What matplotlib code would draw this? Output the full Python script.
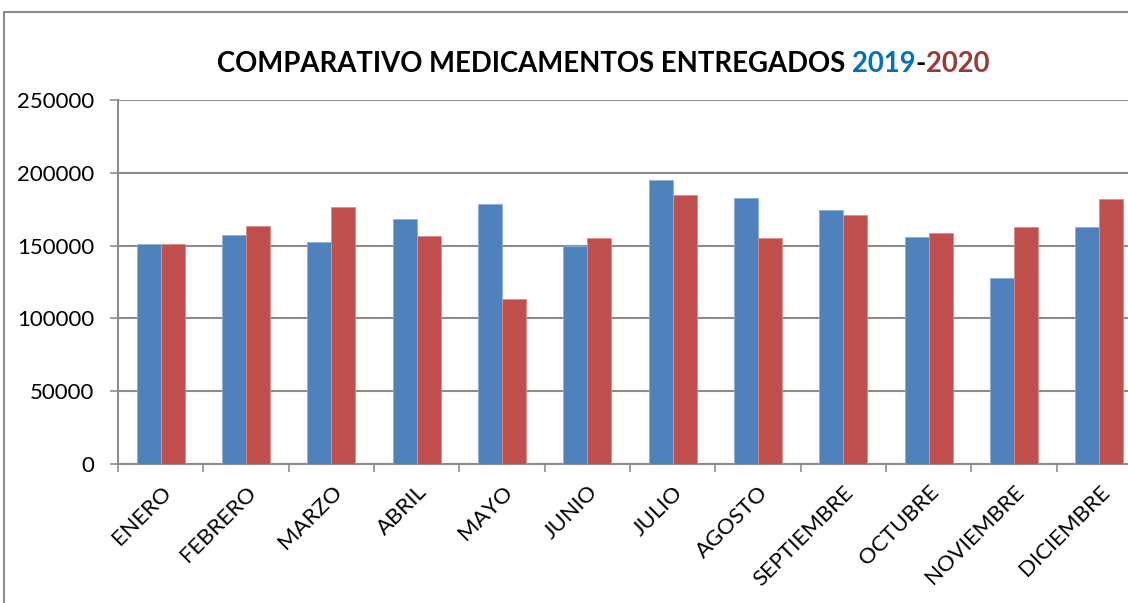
import numpy as np
import matplotlib
matplotlib.use("Agg")
import matplotlib.pyplot as plt
from matplotlib.patches import Rectangle

months = ["ENERO", "FEBRERO", "MARZO", "ABRIL", "MAYO", "JUNIO", "JULIO",
          "AGOSTO", "SEPTIEMBRE", "OCTUBRE", "NOVIEMBRE", "DICIEMBRE"]
values_2019 = [151000, 157500, 152300, 168300, 178800, 149800, 194800,
               182500, 174700, 155900, 127600, 162800]
values_2020 = [151400, 163300, 176300, 156400, 113400, 155000, 184500,
               155000, 171300, 158500, 163000, 182300]
yticks = [0, 50000, 100000, 150000, 200000, 250000]

plt.rcParams["font.family"] = ["Lato", "DejaVu Sans"]

W, H = 1128, 603
fig = plt.figure(figsize=(W / 100, H / 100), dpi=100)

# axes extends a bit past the right edge, like the cropped original
ax = fig.add_axes([118 / W, 1 - 464 / H, 1024 / W, 364 / H])

x = np.arange(len(months))
bar_width = 0.28
ax.bar(x - bar_width / 2, values_2019, bar_width, color="#4F81BD",
       edgecolor="#8DAFD8", linewidth=0.6, zorder=3)
ax.bar(x + bar_width / 2, values_2020, bar_width, color="#C0504D",
       edgecolor="#D98D8B", linewidth=0.6, zorder=3)

ax.set_xlim(-0.5, len(months) - 0.5)
ax.set_ylim(0, 250000)
ax.set_yticks(yticks)
ax.set_yticklabels([str(v) for v in yticks], fontsize=16)
ax.yaxis.grid(True, color="#8C8C8C", linewidth=1.5, zorder=0)

# category labels at centres, tick marks at boundaries
ax.set_xticks(x)
ax.set_xticklabels(months, rotation=45, ha="right", rotation_mode="anchor",
                   fontsize=16)
ax.tick_params(axis="x", length=0, pad=13)
ax.set_xticks(np.arange(len(months) + 1) - 0.5, minor=True)
ax.tick_params(axis="x", which="minor", length=6, color="#8C8C8C", width=1.2)
ax.tick_params(axis="y", length=6, color="#8C8C8C", width=1.2, pad=11)

for side in ["top", "right"]:
    ax.spines[side].set_visible(False)
for side in ["left", "bottom"]:
    ax.spines[side].set_color("#8C8C8C")
    ax.spines[side].set_linewidth(1.5)

# outer chart border
fig.patches.append(Rectangle((4 / W, -0.1), 1.2, 1.1 - 12 / H,
                             transform=fig.transFigure, fill=False,
                             edgecolor="#8C8C8C", linewidth=1.5))

# title in coloured parts
parts = [("COMPARATIVO MEDICAMENTOS ENTREGADOS ", "black"),
         ("2019", "#0070C0"), ("-", "black"), ("2020", "#9B3A38")]
renderer = fig.canvas.get_renderer()
texts = []
for s, c in parts:
    t = fig.text(0, 1 - 64 / H, s, color=c, fontsize=19.8, fontweight="bold",
                 va="center", ha="left")
    texts.append(t)
widths = [t.get_window_extent(renderer).width for t in texts]
pos = 603 - sum(widths) / 2
for t, w in zip(texts, widths):
    t.set_x(pos / W)
    pos += w

fig.savefig("out.png", dpi=100)
